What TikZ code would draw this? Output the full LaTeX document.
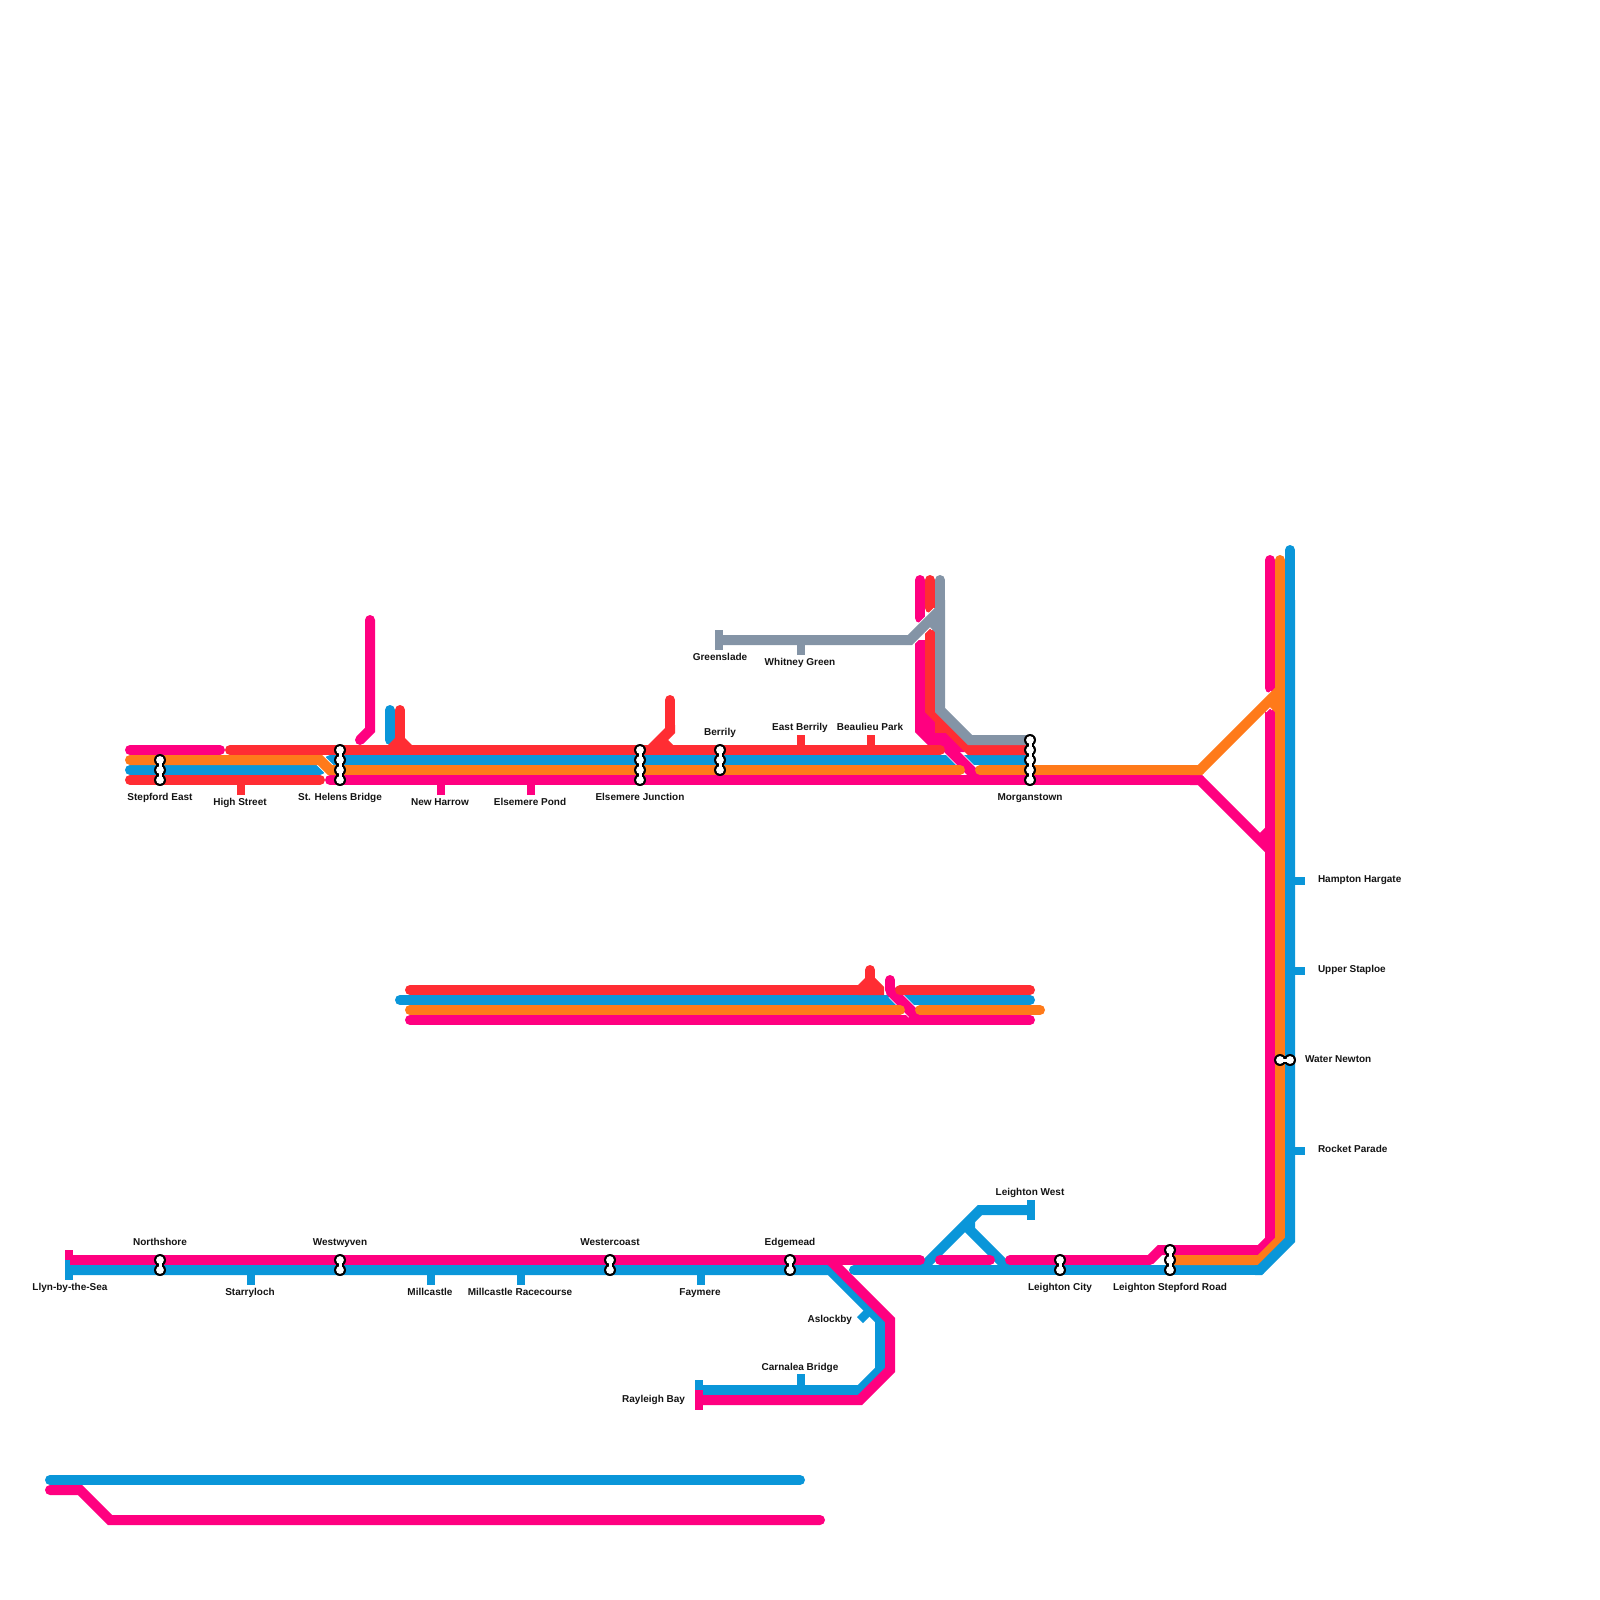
\documentclass[tikz,border=0pt]{standalone}
\usepackage{fontspec}
\setmainfont{Liberation Sans}
\definecolor{cM}{HTML}{FF0080}
\definecolor{cR}{HTML}{FF2D33}
\definecolor{cO}{HTML}{FF7A1A}
\definecolor{cB}{HTML}{0A96D9}
\definecolor{cG}{HTML}{8494A6}
\definecolor{cT}{HTML}{141414}
\tikzset{
  rail/.style={line width=10pt,line cap=round,line join=miter,miter limit=10},
  railb/.style={line width=10pt,line cap=butt,line join=miter,miter limit=10},
  halo/.style={line width=12pt,line cap=butt,white},
  thinhalo/.style={line width=12.5pt,line cap=butt,white},
  tick/.style={line width=8.5pt,line cap=butt},
  lab/.style={font=\bfseries\fontsize{10}{12}\selectfont,text=cT,inner sep=0pt,outer sep=0pt,anchor=base},
  labw/.style={lab,anchor=base west},
  labe/.style={lab,anchor=base east},
}
\newcommand{\icv}[4]{% x, first y, last y, list
  \draw[line width=7.5pt,black] (#1,#2) -- (#1,#3);
  \foreach \yy in {#4} {\fill[black] (#1,\yy) circle (6pt);}
  \draw[line width=3pt,white] (#1,#2) -- (#1,#3);
  \foreach \yy in {#4} {\fill[white] (#1,\yy) circle (3.9pt);}
}
\begin{document}
\begin{tikzpicture}[x=1pt,y=-1pt]
\useasboundingbox (0,0) rectangle (1600,1600);
% ---------- bottom separate group
\draw[rail,cM] (50,1490) -- (80,1490) -- (110,1520) -- (820,1520);
\draw[rail,cB] (50,1480) -- (800,1480);
% ---------- middle group
\draw[rail,cB] (400,1000) -- (1030,1000);
\draw[rail,cM] (410,1020) -- (1030,1020);
\draw[thinhalo] (893,993) -- (913,1013);
\draw[railb,cM,line width=11pt] (890,990) -- (917,1017);
\draw[rail,cM] (890,980) -- (890,990);
\draw[rail,cR] (410,990) -- (860,990);
\fill[cR] (858,985) -- (865,978) -- (875,978) -- (884,987) -- (884,995) -- (858,995) -- cycle;
\draw[rail,cR] (870,970) -- (870,985);
\draw[rail,cR] (900,990) -- (1030,990);
\draw[rail,cO] (410,1010) -- (900,1010);
\draw[rail,cO] (920,1010) -- (1040,1010);
% ---------- lower main line
\draw[tick,cB] (251,1270) -- (251,1285);
\draw[tick,cB] (431,1270) -- (431,1285);
\draw[tick,cB] (521,1270) -- (521,1285);
\draw[tick,cB] (701,1270) -- (701,1285);
\draw[tick,cB] (801,1390) -- (801,1374);
\draw[tick,cB] (870,1310) -- (860,1320);
\draw[tick,cM] (69,1250) -- (69,1270);
\draw[tick,cB] (69,1260) -- (69,1280);
\draw[tick,cB] (699,1380) -- (699,1400);
\draw[railb,cB] (70,1270) -- (830,1270) -- (880,1320) -- (880,1370) -- (860,1390) -- (700,1390);
\draw[rail,cB] (854,1270) -- (1260,1270);
\draw[railb,cB] (920,1270) -- (980,1210) -- (1030,1210);
\draw[railb,cB] (970,1220) -- (970,1230) -- (1010,1270);
\draw[tick,cB] (1031,1200) -- (1031,1220);
\draw[railb,cM] (70,1260) -- (850,1260);
\draw[rail,cM] (830,1260) -- (920,1260);
\draw[railb,cM] (830,1260) -- (890,1320) -- (890,1370) -- (860,1400) -- (700,1400);
\draw[tick,cM] (699,1390) -- (699,1410);
\draw[rail,cM] (940,1260) -- (990,1260);
\draw[rail,cM] (1010,1260) -- (1150,1260);
% ---------- magenta of the right-hand trunk
\draw[railb,cM] (1150,1260) -- (1160,1250) -- (1260,1250) -- (1270,1240) -- (1270,700);
\draw[rail,cM] (1270,560) -- (1270,688);
% ---------- upper group: blue, then the crossing magenta
\draw[rail,cB] (130,770) -- (320,770);
\draw[rail,cB] (330,760) -- (960,760);
\draw[railb,cB] (960,760) -- (1030,760);
\draw[thinhalo] (948,748) -- (975,775);
\draw[railb,cM,line width=11pt] (930,730) -- (980,780);
\draw[railb,cM] (920,640) -- (920,730) -- (940,750);
\fill[cM] (925,705) -- (935,720) -- (935,740) -- (925,740) -- cycle;
\fill[cM] (935,733) -- (950,733) -- (965,752) -- (955,752) -- cycle;
\draw[rail,cM] (920,580) -- (920,618);
\draw[rail,cR] (930,580) -- (930,608);
\draw[railb,cR] (930,618) -- (930,710) -- (970,750) -- (1030,750);
\fill[cR] (935,720) -- (946,720) -- (946,733) -- (935,733) -- cycle;
\draw[tick,cG] (801,640) -- (801,655);
\draw[halo] (905,645) -- (938,612);
\draw[halo] (930,620) -- (936,626);
\draw[railb,cG] (720,640) -- (910,640) -- (940,610);
\draw[railb,cG] (930,620) -- (940,630);
\draw[railb,cG] (940,600) -- (940,710) -- (970,740) -- (1030,740);
\draw[rail,cG] (940,580) -- (940,600);
\draw[tick,cG] (719,630) -- (719,650);
% magenta stubs
\draw[rail,cM] (370,620) -- (370,730) -- (360,740);
\draw[tick,cM] (441,780) -- (441,795);
\draw[tick,cM] (531,780) -- (531,795);
\draw[tick,cR] (241,780) -- (241,795);
\draw[tick,cR] (801,750) -- (801,735);
\draw[tick,cR] (871,750) -- (871,735);
\draw[rail,cB] (390,710) -- (390,740);
% main band
\draw[rail,cM] (130,750) -- (220,750);
\draw[rail,cR] (130,780) -- (320,780);
\draw[rail,cM] (330,780) -- (1200,780);
\draw[railb,cM] (1190,780) -- (1200,780) -- (1270,850);
\draw[railb,cM] (1270,830) -- (1260,840);
\draw[rail,cR] (230,750) -- (940,750);
\draw[rail,cR] (400,710) -- (400,745);
\fill[cR] (388,745) -- (395,738) -- (405,738) -- (412,745) -- cycle;
\draw[rail,cR] (670,700) -- (670,725);
\fill[cR] (648,745) -- (665,728) -- (665,725) -- (675,725) -- (675,733) -- (668,740) -- (673,745) -- cycle;
\draw[halo] (320,760) -- (330,770);
\draw[railb,cO] (130,760) -- (320,760) -- (330,770) -- (340,770);
\draw[rail,cO] (130,760) -- (200,760);
\draw[rail,cO] (335,770) -- (960,770);
\draw[rail,cO] (980,770) -- (1200,770);
\draw[halo] (1262,708) -- (1275,695);
\draw[halo] (1270,700) -- (1276,706);
\draw[railb,cO] (1190,770) -- (1200,770) -- (1280,690);
\draw[railb,cO] (1270,700) -- (1280,710);
% ---------- orange and blue of the right-hand trunk
\draw[railb,cO] (1170,1260) -- (1260,1260) -- (1280,1240) -- (1280,600);
\draw[rail,cO] (1280,560) -- (1280,600);
\draw[tick,cB] (1290,881) -- (1305,881);
\draw[tick,cB] (1290,971) -- (1305,971);
\draw[tick,cB] (1290,1151) -- (1305,1151);
\draw[railb,cB] (1255,1270) -- (1260,1270) -- (1290,1240) -- (1290,600);
\draw[rail,cB] (1290,550) -- (1290,600);
% ---------- interchanges
\icv{160}{760}{780}{760,770,780}
\icv{340}{750}{780}{750,760,770,780}
\icv{640}{750}{780}{750,760,770,780}
\icv{720}{750}{770}{750,760,770}
\icv{1030}{740}{780}{740,750,760,770,780}
\icv{160}{1260}{1270}{1260,1270}
\icv{340}{1260}{1270}{1260,1270}
\icv{610}{1260}{1270}{1260,1270}
\icv{790}{1260}{1270}{1260,1270}
\icv{1060}{1260}{1270}{1260,1270}
\icv{1170}{1250}{1270}{1250,1260,1270}
\draw[line width=7.5pt,black] (1280,1060) -- (1290,1060);
\fill[black] (1280,1060) circle (6pt) (1290,1060) circle (6pt);
\draw[line width=3pt,white] (1280,1060) -- (1290,1060);
\fill[white] (1280,1060) circle (3.9pt) (1290,1060) circle (3.9pt);
% ---------- labels
\node[lab] (stepford) at (160,800.5) {Stepford East};
\node[lab] (high) at (240,805.5) {High Street};
\node[lab] (helens) at (340,800.5) {St. Helens Bridge};
\node[lab] (harrow) at (440,805.5) {New Harrow};
\node[lab] (pond) at (530,805.5) {Elsemere Pond};
\node[lab] (junction) at (640,800.5) {Elsemere Junction};
\node[lab] (morgan) at (1030,800.5) {Morganstown};
\node[lab] (berrily) at (720,735.5) {Berrily};
\node[lab] (eastb) at (800,730.5) {East Berrily};
\node[lab] (beaulieu) at (870,730.5) {Beaulieu Park};
\node[lab] (greens) at (720,660.5) {Greenslade};
\node[lab] (whitney) at (800,665.5) {Whitney Green};
\node[labw] (hampton) at (1318,882) {Hampton Hargate};
\node[labw] (upper) at (1318,972) {Upper Staploe};
\node[labw] (water) at (1305,1062.5) {Water Newton};
\node[labw] (rocket) at (1318,1152.5) {Rocket Parade};
\node[lab] (lweat) at (1030,1195.5) {Leighton West};
\node[lab] (north) at (160,1245.5) {Northshore};
\node[lab] (westw) at (340,1245.5) {Westwyven};
\node[lab] (westc) at (610,1245.5) {Westercoast};
\node[lab] (edge) at (790,1245.5) {Edgemead};
\node[lab] (llyn) at (70,1290.5) {Llyn-by-the-Sea};
\node[lab] (starry) at (250,1295.5) {Starryloch};
\node[lab] (mill) at (430,1295.5) {Millcastle};
\node[lab] (millr) at (520,1295.5) {Millcastle Racecourse};
\node[lab] (fay) at (700,1295.5) {Faymere};
\node[lab] (lcity) at (1060,1290.5) {Leighton City};
\node[lab] (lsr) at (1170,1290.5) {Leighton Stepford Road};
\node[labe] (asl) at (852,1322) {Aslockby};
\node[lab] (carn) at (800,1370.5) {Carnalea Bridge};
\node[labe] (ray) at (685,1402.5) {Rayleigh Bay};
\end{tikzpicture}
\end{document}
